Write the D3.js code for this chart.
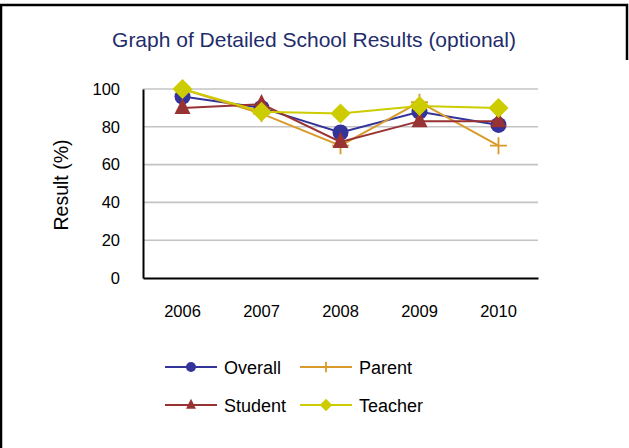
<!DOCTYPE html>
<html><head><meta charset="utf-8">
<script src="https://cdn.jsdelivr.net/npm/d3@7"></script>
<style>body{margin:0;background:#fff}svg{display:block;font-family:"Liberation Sans",Arial,sans-serif}</style>
</head><body>
<svg id="c" width="629" height="448"></svg>
<script>
const years = ["2006","2007","2008","2009","2010"];
const overall = [96, 90, 77, 88, 81];
const parent = [100, 87, 70, 93, 70];
const student = [90, 92, 72, 83, 83];
const teacher = [100, 88, 87, 91, 90];
const yTicks = [0, 20, 40, 60, 80, 100];

const series = [
  {name:"Overall", values:overall, color:"#333399", marker:"circle"},
  {name:"Parent", values:parent, color:"#D89B2B", marker:"plus"},
  {name:"Student", values:student, color:"#993333", marker:"triangle"},
  {name:"Teacher", values:teacher, color:"#CCCC00", marker:"diamond"}
];

const svg = d3.select("#c");
const FF = "Liberation Sans, Arial, sans-serif";
// frame
svg.append("path").attr("d","M1,448V5H627V60").attr("fill","none").attr("stroke","#000").attr("stroke-width",2.5);

const pL=143, pR=538, pT=89, pB=278;
const x = d3.scaleBand().domain(years).range([pL,pR]);
const y = d3.scaleLinear().domain([0,100]).range([pB,pT]);

svg.append("text").attr("x",314).attr("y",47).attr("text-anchor","middle")
  .attr("font-size",21).attr("fill","#1F2D6B").text("Graph of Detailed School Results (optional)");

// gridlines
svg.append("g").selectAll("line").data(yTicks.filter(d=>d>0)).join("line")
  .attr("x1",pL).attr("x2",pR).attr("y1",d=>y(d)).attr("y2",d=>y(d))
  .attr("stroke","#c4c4c4").attr("stroke-width",1.6);

const ya = svg.append("g").attr("transform",`translate(${pL},0)`)
  .call(d3.axisLeft(y).tickValues(yTicks).tickSize(0).tickPadding(23));
ya.attr("font-size",16.5).attr("font-family",FF);
ya.select(".domain").attr("stroke","#000").attr("stroke-width",2);
ya.selectAll("text").attr("fill","#000");

const xa = svg.append("g").attr("transform",`translate(0,${pB})`)
  .call(d3.axisBottom(x).tickSize(0).tickPadding(27));
xa.attr("font-size",16.5).attr("font-family",FF);
xa.select(".domain").attr("stroke","#000").attr("stroke-width",2);
xa.selectAll("text").attr("fill","#000");

svg.append("text").attr("transform","translate(68,185) rotate(-90)").attr("text-anchor","middle")
  .attr("font-size",19.5).text("Result (%)");

const cx = d => x(d)+x.bandwidth()/2;
function drawMarker(g, type, color, s){
  if(type==="circle") g.append("circle").attr("r",8*s).attr("fill",color);
  else if(type==="triangle") g.append("path").attr("d",`M0,${-10*s}L${8*s},${6*s}L${-8*s},${6*s}Z`).attr("fill",color);
  else if(type==="diamond") g.append("path").attr("d",`M0,${-10*s}L${10*s},0L0,${10*s}L${-10*s},0Z`).attr("fill",color);
  else if(type==="plus") g.append("path").attr("d",`M${-8.5*s},0H${8.5*s}M0,${-8.5*s}V${8.5*s}`).attr("stroke",color).attr("stroke-width",1.8);
}
const line = d3.line().x((d,i)=>cx(years[i])).y(d=>y(d));
series.forEach(s=>{
  svg.append("path").datum(s.values).attr("d",line).attr("fill","none").attr("stroke",s.color).attr("stroke-width",2);
  s.values.forEach((v,i)=>{
    const g = svg.append("g").attr("transform",`translate(${cx(years[i])},${y(v)})`);
    drawMarker(g,s.marker,s.color,1);
  });
});

// legend
const lg = [[165,367,0],[300,367,1],[165,405,2],[300,405,3]];
lg.forEach(([lx,ly,k])=>{
  const s = series[k];
  svg.append("line").attr("x1",lx).attr("x2",lx+52).attr("y1",ly).attr("y2",ly).attr("stroke",s.color).attr("stroke-width",2);
  const g = svg.append("g").attr("transform",`translate(${lx+26},${ly})`);
  drawMarker(g,s.marker,s.color,0.62);
  svg.append("text").attr("x",lx+59).attr("y",ly+7).attr("font-size",18).text(s.name);
});
</script>
</body></html>
